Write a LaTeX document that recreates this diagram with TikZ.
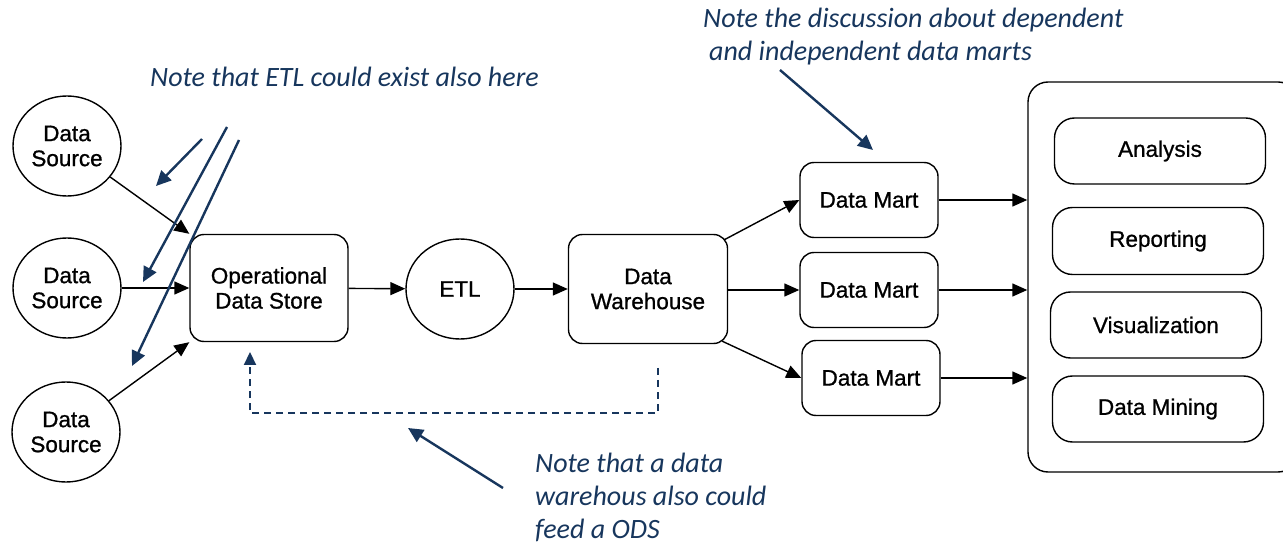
\documentclass[tikz,border=0pt]{standalone}
\usepackage{fontspec}
\setmainfont{Liberation Sans}[FakeBold=0.9]
\newfontfamily\notefont{Carlito}
\usetikzlibrary{arrows.meta,shapes.geometric,calc}
\definecolor{navy}{RGB}{23,54,93}
\begin{document}
\begin{tikzpicture}[x=1pt,y=-1pt,
  lbl/.style={font=\fontsize{22.5}{25}\selectfont, align=center, inner sep=0pt},
  box/.style={lbl, draw, line width=1.4pt, rounded corners=14pt},
  circ/.style={lbl, draw, ellipse, line width=1.4pt, minimum width=108pt, minimum height=100pt},
  blk/.style={line width=1.4pt, -{Triangle[length=15pt,width=13pt]}},
  nav/.style={navy, line width=2.4pt, -{Triangle[length=15pt,width=14pt]}},
  note/.style={navy, font=\notefont\itshape\fontsize{28}{33}\selectfont, align=left, inner sep=0pt, anchor=base west}]
\clip (0,0) rectangle (1283,545);
\useasboundingbox (0,0) rectangle (1283,545);
% nodes
\node[circ] (ds1) at (67,146) {Data\\Source};
\node[circ] (ds2) at (67,288) {Data\\Source};
\node[circ] (ds3) at (66,432) {Data\\Source};
\node[box, minimum width=158pt, minimum height=107pt] (ods) at (269,288) {Operational\\Data Store};
\node[circ] (etl) at (460,289) {ETL};
\node[box, minimum width=159pt, minimum height=109pt] (dw) at (648,289) {Data\\Warehouse};
\node[box, minimum width=138pt, minimum height=75pt] (dm1) at (869,200) {Data Mart};
\node[box, minimum width=138pt, minimum height=75pt] (dm2) at (869,290) {Data Mart};
\node[box, minimum width=138pt, minimum height=75pt] (dm3) at (871,378) {Data Mart};
\node[draw, line width=1.4pt, rounded corners=20pt, inner sep=0pt, minimum width=270pt, minimum height=390pt] (outer) at (1163,277) {};
\node[box, rounded corners=20pt, minimum width=211pt, minimum height=66pt] (an) at (1160,151) {Analysis};
\node[box, rounded corners=20pt, minimum width=211pt, minimum height=67pt] (rep) at (1158,241) {Reporting};
\node[box, rounded corners=20pt, minimum width=211pt, minimum height=66pt] (vis) at (1156,325) {Visualization};
\node[box, rounded corners=20pt, minimum width=211pt, minimum height=66pt] (dmin) at (1158,409) {Data Mining};
% black connectors
\draw[blk] (ds1) -- (ods.north west);
\draw[blk] (ds2) -- (ods.west |- ds2);
\draw[blk] (ds3) -- (ods.south west);
\draw[blk] (ods) -- (etl);
\draw[blk] (etl) -- (dw.west |- etl);
\draw[blk] ($(dw.north east)+(-4,6)$) -- (dm1.west);
\draw[blk] (dw.east |- dm2) -- (dm2.west);
\draw[blk] ($(dw.south east)+(-6,-3)$) -- (dm3.west);
\draw[blk] (dm1.east) -- (dm1.east -| outer.west);
\draw[blk] (dm2.east) -- (dm2.east -| outer.west);
\draw[blk] (dm3.east) -- (dm3.east -| outer.west);
% notes (base = baseline of last line)
\node[note] (n1) at (150,87) {Note that ETL could exist also here};
\node[note] (n2) at (703,61) {Note the discussion about dependent\\\hspace{6pt}and independent data marts};
\node[note] (n3) at (535,538) {Note that a data\\warehous also could\\feed a ODS};
% navy arrows
\coordinate (s1) at (202,139); \coordinate (e1) at (156,186);
\coordinate (s2) at (227,127); \coordinate (e2) at (143,282);
\coordinate (s3) at (239,140); \coordinate (e3) at (132,366);
\draw[nav] (s1) -- (e1);
\draw[nav] (s2) -- (e2);
\draw[nav] (s3) -- (e3);
\coordinate (s4) at (780,70); \coordinate (e4) at (873,150);
\draw[nav] (s4) -- (e4);
\coordinate (s5) at (503,488); \coordinate (e5) at (408,428);
\draw[nav] (s5) -- (e5);
% dashed feedback
\coordinate (dstart) at (658,368);
\coordinate (dcorner) at (250,413);
\coordinate (dend) at (250,352);
\draw[navy, line width=2.2pt, dash pattern=on 7pt off 5pt, -{Triangle[length=13pt,width=12pt]}] (dstart) |- (dcorner) -- (dend);
\end{tikzpicture}
\end{document}
